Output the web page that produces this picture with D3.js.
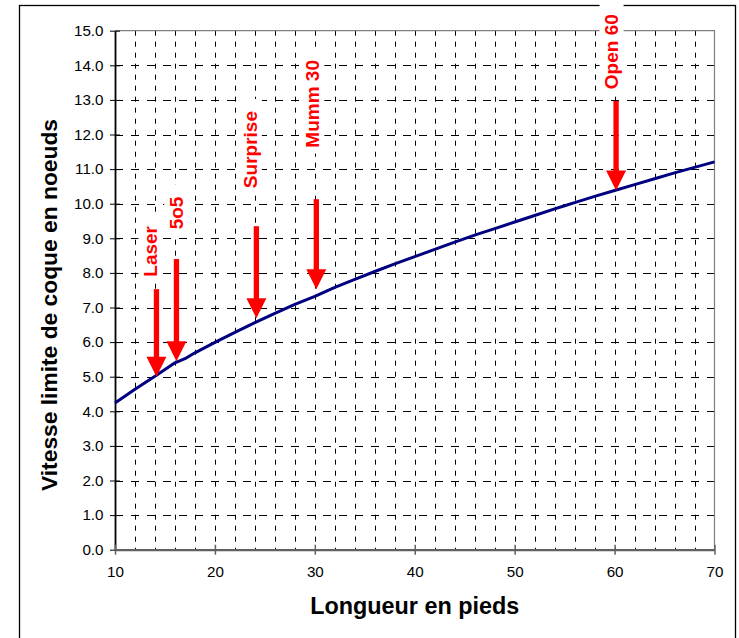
<!DOCTYPE html>
<html>
<head>
<meta charset="utf-8">
<script src="https://cdn.jsdelivr.net/npm/d3@7"></script>
<style>
  html, body { margin: 0; padding: 0; background: #fff; }
  svg { display: block; }
  text { font-family: "Liberation Sans", Arial, sans-serif; }
</style>
</head>
<body>
<svg id="chart" width="739" height="638"></svg>
<script>
// ---- Data ----
const lengths = [10, 12, 14, 16, 17, 18, 20, 22, 24, 26, 28, 30, 32, 34, 36, 38, 40, 42, 44, 46, 48, 50, 52, 54, 55, 56, 58, 60, 62, 64, 66, 68, 70];
const speeds  = [4.24, 4.64, 5.01, 5.40, 5.52, 5.69, 5.99, 6.28, 6.56, 6.83, 7.09, 7.32, 7.58, 7.81, 8.04, 8.26, 8.47, 8.68, 8.89, 9.09, 9.28, 9.47, 9.66, 9.85, 9.94, 10.03, 10.21, 10.38, 10.55, 10.72, 10.89, 11.05, 11.21];

const xTicks = [10, 20, 30, 40, 50, 60, 70];
const yTicks = [0, 1, 2, 3, 4, 5, 6, 7, 8, 9, 10, 11, 12, 13, 14, 15];

const boatNames   = ["Laser", "5o5", "Surprise", "Mumm 30", "Open 60"];
const boatLengths = [14, 16, 24, 30, 60];
const arrowFrom   = [7.53, 8.40, 9.35, 10.13, 12.97];   // knots (shaft top)
const arrowTo     = [5.00, 5.45, 6.69, 7.53, 10.38];    // knots (arrow tip)
const labelAtX    = [13.55, 16.13, 23.5, 29.75, 59.7];  // feet
const labelFromY  = [7.89, 9.26, 10.45, 11.62, 13.31];  // knots (start of label text)

const xTitle = "Longueur en pieds";
const yTitle = "Vitesse limite de coque en noeuds";

// ---- Layout ----
const svg = d3.select("#chart");
const L = 115, R = 714.5, T = 30.7, B = 549.7;

const x = d3.scaleLinear().domain([10, 70]).range([L, R]);
const y = d3.scaleLinear().domain([0, 15]).range([B, T]);

// outer frame
svg.append("rect")
  .attr("x", 19.5).attr("y", 5.5).attr("width", 716).attr("height", 700)
  .attr("fill", "#fff").attr("stroke", "#000").attr("stroke-width", 1.3);

// grid: horizontal dashed lines
const gridH = d3.range(1, 15);
svg.append("g").selectAll("line").data(gridH).join("line")
  .attr("x1", L).attr("x2", R)
  .attr("y1", d => Math.round(y(d)) + 0.5).attr("y2", d => Math.round(y(d)) + 0.5)
  .attr("stroke", "#000").attr("stroke-width", 1)
  .attr("stroke-dasharray", "8,8");

// grid: vertical dashed lines every 2 ft
const gridV = d3.range(12, 70, 2);
svg.append("g").selectAll("line").data(gridV).join("line")
  .attr("x1", d => Math.round(x(d)) + 0.5).attr("x2", d => Math.round(x(d)) + 0.5)
  .attr("y1", T).attr("y2", B)
  .attr("stroke", "#000").attr("stroke-width", 1)
  .attr("stroke-dasharray", "5,6");

// plot border top & right (gray)
svg.append("path")
  .attr("d", `M${L},${T}H${R}V${B}`)
  .attr("fill", "none").attr("stroke", "#808080").attr("stroke-width", 1.2);

// y axis
const yAxis = svg.append("g").attr("transform", `translate(${L},0)`)
  .call(d3.axisLeft(y).tickValues(yTicks).tickFormat(d3.format(".1f")).tickSizeInner(5).tickSizeOuter(0).tickPadding(6));
yAxis.select(".domain").attr("stroke", "#000").attr("stroke-width", 1.8);
yAxis.selectAll(".tick line").attr("stroke", "#000").attr("x1", 5).attr("x2", -5);
yAxis.selectAll(".tick text").attr("font-size", 15.2).attr("fill", "#000")
  .attr("font-family", "'Liberation Sans', Arial, sans-serif").attr("dx", "-0.5");

// x axis
const xAxis = svg.append("g").attr("transform", `translate(0,${B})`)
  .call(d3.axisBottom(x).tickValues(xTicks).tickFormat(d3.format("d")).tickSizeInner(5).tickSizeOuter(0).tickPadding(12));
xAxis.select(".domain").attr("stroke", "#606060").attr("stroke-width", 2.2);
xAxis.selectAll(".tick line").attr("stroke", "#606060").attr("stroke-width", 1.5).attr("y1", -5).attr("y2", 5);
xAxis.selectAll(".tick text").attr("font-size", 15.2).attr("fill", "#000")
  .attr("font-family", "'Liberation Sans', Arial, sans-serif");

// curve
const pts = lengths.map((d, i) => [d, speeds[i]]);
svg.append("path")
  .datum(pts)
  .attr("d", d3.line().x(d => x(d[0])).y(d => y(d[1])))
  .attr("fill", "none").attr("stroke", "#000080").attr("stroke-width", 3)
  .attr("stroke-linejoin", "round").attr("stroke-linecap", "butt");

// annotations
const ann = svg.append("g");
const fontSize = 19;
boatNames.forEach((name, i) => {
  const cx = x(boatLengths[i]) + 1.5;
  const yTop = y(arrowFrom[i]);
  const yTip = y(arrowTo[i]);
  const headH = 20, headW = 20, shaftW = 5.3;

  // label with white box
  const lx = x(labelAtX[i]);
  const ly = y(labelFromY[i]);
  const g = ann.append("g");
  const t = g.append("text")
    .attr("transform", `translate(${lx},${ly}) rotate(-90)`)
    .attr("dy", "0.36em")
    .attr("font-size", fontSize).attr("font-weight", "bold")
    .attr("fill", "#ff0000")
    .text(name);
  const w = t.node().getComputedTextLength();
  g.insert("rect", "text")
    .attr("x", lx - 12).attr("width", 24)
    .attr("y", ly - w - 12).attr("height", w + 18)
    .attr("fill", "#fff");

  // arrow
  ann.append("rect")
    .attr("x", cx - shaftW / 2).attr("width", shaftW)
    .attr("y", yTop).attr("height", yTip - headH - yTop + 1)
    .attr("fill", "#ff0000");
  ann.append("path")
    .attr("d", `M${cx - headW / 2},${yTip - headH}L${cx + headW / 2},${yTip - headH}L${cx},${yTip}Z`)
    .attr("fill", "#ff0000");
});

// axis titles
svg.append("text")
  .attr("x", (L + R) / 2).attr("y", 614)
  .attr("text-anchor", "middle")
  .attr("font-size", 23.4).attr("font-weight", "bold").attr("fill", "#000")
  .text(xTitle);

svg.append("text")
  .attr("transform", `translate(57,305) rotate(-90)`)
  .attr("text-anchor", "middle")
  .attr("font-size", 22.8).attr("font-weight", "bold").attr("fill", "#000")
  .text(yTitle);
</script>
</body>
</html>
